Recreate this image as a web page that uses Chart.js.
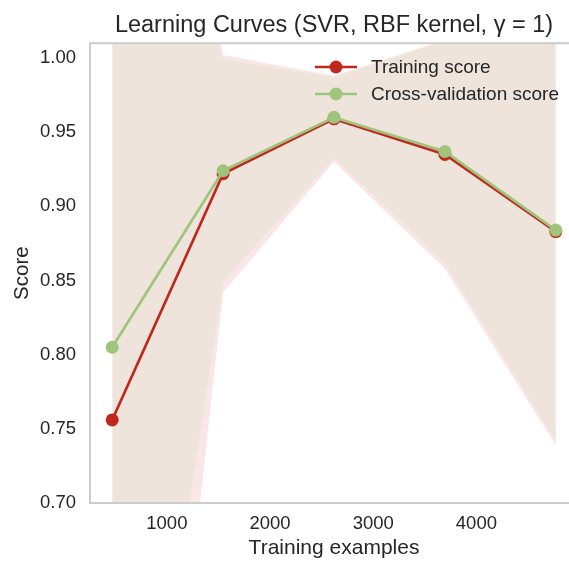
<!DOCTYPE html>
<html lang="en">
<head>
    <meta charset="UTF-8">
    <title>Learning Curves (SVR, RBF kernel)</title>
    <script src="https://cdn.jsdelivr.net/npm/chart.js"></script>
    <style>
        html, body {
            margin: 0;
            background: #fff;
        }

        .wrap {
            position: relative;
            width: 569px;
            height: 563px;
            overflow: hidden;
        }

        .legend {
            position: absolute;
            left: 315px;
            top: 54px;
            font-family: "Liberation Sans", Arial, sans-serif;
            font-size: 19px;
            color: #262626;
        }

        .legend div {
            height: 26.6px;
            display: flex;
            align-items: center;
        }

        .legend svg {
            margin-right: 14px;
        }
    </style>
</head>
<body>
    <div class="wrap">
        <canvas id="curve" width="668" height="563"></canvas>
        <div class="legend">
            <div>
                <svg width="42" height="14"><line x1="0" y1="7" x2="42" y2="7" stroke="#c0281e" stroke-width="2.7"/><circle cx="21" cy="7" r="6.5" fill="#c0281e"/></svg>
                Training score
            </div>
            <div>
                <svg width="42" height="14"><line x1="0" y1="7" x2="42" y2="7" stroke="#9fc47c" stroke-width="2.7"/><circle cx="21" cy="7" r="6.5" fill="#9fc47c"/></svg>
                Cross-validation score
            </div>
        </div>
    </div>

    <script>
        // values
        const trainSizes = [470, 1545, 2620, 3695, 4770];
        const trainMean = [0.756, 0.922, 0.959, 0.935, 0.883];
        const trainStd = [0.599, 0.080, 0.029, 0.077, 0.144];
        const cvMean = [0.805, 0.924, 0.960, 0.937, 0.884];
        const cvStd = [0.446, 0.075, 0.027, 0.075, 0.142];
        const yTicks = [0.70, 0.75, 0.80, 0.85, 0.90, 0.95, 1.00];
        const xTicks = [1000, 2000, 3000, 4000];

        const red = '#c0281e';
        const green = '#9fc47c';
        const font = '"Liberation Sans", Arial, sans-serif';
        const textColor = '#262626';

        const pts = (vals) => trainSizes.map((x, i) => ({ x: x, y: vals[i] }));
        const plus = (m, s) => m.map((v, i) => v + s[i]);
        const minus = (m, s) => m.map((v, i) => v - s[i]);

        // axes box like the matplotlib spines
        const frame = {
            id: 'frame',
            afterDatasetsDraw(chart) {
                const { ctx, chartArea: a } = chart;
                ctx.save();
                ctx.strokeStyle = '#cccccc';
                ctx.lineWidth = 2;
                ctx.strokeRect(a.left, a.top, a.right - a.left, a.bottom - a.top);
                ctx.restore();
            }
        };

        const band = (data, color, fillTo, order) => ({
            data: pts(data),
            borderWidth: 0,
            pointRadius: 0,
            backgroundColor: color,
            fill: fillTo,
            order: order
        });

        const line = (data, color, order) => ({
            data: pts(data),
            borderColor: color,
            backgroundColor: color,
            borderWidth: 2.7,
            pointRadius: 6.5,
            pointHoverRadius: 6.5,
            pointBorderWidth: 0,
            fill: false,
            order: order
        });

        new Chart(document.getElementById('curve'), {
            type: 'line',
            data: {
                datasets: [
                    band(plus(trainMean, trainStd), 'rgba(192, 40, 30, 0.11)', 1, 6),
                    band(minus(trainMean, trainStd), 'rgba(0,0,0,0)', false, 6),
                    band(plus(cvMean, cvStd), 'rgba(159, 196, 124, 0.11)', 3, 5),
                    band(minus(cvMean, cvStd), 'rgba(0,0,0,0)', false, 5),
                    line(trainMean, red, 2),
                    line(cvMean, green, 1)
                ]
            },
            options: {
                responsive: false,
                animation: false,
                layout: { padding: { left: 0, right: 90, top: 0, bottom: 0 } },
                plugins: {
                    legend: { display: false },
                    tooltip: { enabled: false },
                    title: {
                        display: true,
                        fullSize: false,
                        text: 'Learning Curves (SVR, RBF kernel, \u03b3 = 1)',
                        color: textColor,
                        font: { family: font, size: 23.5, weight: 'normal' },
                        padding: { top: 11, bottom: 4 }
                    }
                },
                scales: {
                    x: {
                        type: 'linear',
                        min: 255,
                        max: 4985,
                        grid: { display: false, drawTicks: false },
                        border: { display: false },
                        afterFit: (s) => { s.height = 60; },
                        afterBuildTicks: (s) => { s.ticks = xTicks.map(v => ({ value: v })); },
                        ticks: {
                            color: textColor,
                            padding: 10,
                            font: { family: font, size: 18.5 },
                            callback: (v) => String(v)
                        },
                        title: {
                            display: true,
                            text: 'Training examples',
                            color: textColor,
                            font: { family: font, size: 21 },
                            padding: { top: 0, bottom: 2 }
                        }
                    },
                    y: {
                        min: 0.70,
                        max: 1.01,
                        grid: { display: false, drawTicks: false },
                        border: { display: false },
                        afterFit: (s) => { s.width = 90; },
                        afterBuildTicks: (s) => { s.ticks = yTicks.map(v => ({ value: v })); },
                        ticks: {
                            color: textColor,
                            padding: 14,
                            font: { family: font, size: 18.5 },
                            callback: (v) => v.toFixed(2)
                        },
                        title: {
                            display: true,
                            text: 'Score',
                            color: textColor,
                            font: { family: font, size: 20.5 },
                            padding: { top: 10, bottom: 0 }
                        }
                    }
                }
            },
            plugins: [frame]
        });
    </script>
</body>
</html>
